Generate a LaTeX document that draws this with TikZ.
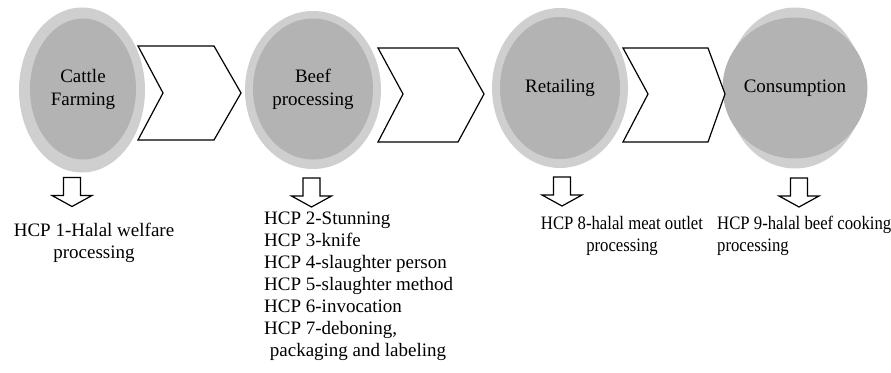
\documentclass[tikz,border=0pt]{standalone}
\usepackage{fontspec}
\setmainfont{Liberation Serif}
\newfontfamily\narrowserif[FakeStretch=0.88]{Liberation Serif}
\usetikzlibrary{shapes.geometric}
\definecolor{ringgray}{RGB}{207,207,207}
\definecolor{coregray}{RGB}{179,179,179}
\begin{document}
\begin{tikzpicture}[x=1pt,y=-1pt,
  ring/.style={ellipse, fill=ringgray, inner sep=0pt},
  core/.style={ellipse, fill=coregray, inner sep=0pt, align=center, font=\fontsize{19}{23}\selectfont},
  chev/.style={draw=black, line width=1.2pt, fill=white, line join=miter},
  blockarrow/.style={draw=black, line width=1.2pt, fill=white, line join=miter},
  hcp/.style={inner sep=0pt, font=\fontsize{19}{22}\selectfont},
  hcpnarrow/.style={inner sep=0pt, font=\narrowserif\fontsize{19}{22}\selectfont},
  downarrow/.pic={\draw[blockarrow] (-8.5,0) -- (8.5,0) -- (8.5,18) -- (20,18) -- (0,29) -- (-20,18) -- (-8.5,18) -- cycle;}
]
\useasboundingbox (0,0) rectangle (891,372);

% stage ellipses
\node[ring, minimum width=126pt, minimum height=165pt] (r1) at (82,90) {};
\node[core, minimum width=106pt, minimum height=141pt] (c1) at (83,89) {Cattle\\Farming};
\node[ring, minimum width=136pt, minimum height=158pt] (r2) at (313,90) {};
\node[core, minimum width=120pt, minimum height=141pt] (c2) at (313,89) {Beef\\processing};
\node[ring, minimum width=136pt, minimum height=160pt] (r3) at (560,88) {};
\node[core, minimum width=120pt, minimum height=142pt] (c3) at (560,88) {Retailing};
\node[ring, minimum width=137pt, minimum height=161pt] (r4) at (795,88) {};
\node[core, minimum width=120pt, minimum height=141pt] (c4) at (795,88) {Consumption};

% chevrons
\draw[chev] (138,46) -- (214,46) -- (241,93) -- (214,140) -- (138,140) -- (163,93) -- cycle;
\draw[chev] (378,48) -- (458,48) -- (484,94) -- (458,142) -- (378,142) -- (403,94) -- cycle;
\draw[chev] (623,48) -- (708,48) -- (725,94) -- (708,142) -- (623,142) -- (648,94) -- cycle;

% down block arrows
\pic at (72,177.5) {downarrow};
\pic at (311.5,178) {downarrow};
\pic at (562,177) {downarrow};
\pic at (799,178) {downarrow};

% HCP texts
\node[hcp, anchor=north, align=center] (t1) at (94,223) {HCP 1-Halal welfare\\processing};
\node[hcp, anchor=north west, align=left] (t2) at (264,212) {HCP 2-Stunning\\HCP 3-knife\\HCP 4-slaughter person\\HCP 5-slaughter method\\HCP 6-invocation\\HCP 7-deboning,\\\hspace*{0.3em}packaging and labeling};
\node[hcpnarrow, anchor=north, align=center] (t3) at (622,216) {HCP 8-halal meat outlet\\processing};
\node[hcpnarrow, anchor=north west, align=left] (t4) at (717,216) {HCP 9-halal beef cooking\\processing};
\end{tikzpicture}
\end{document}
